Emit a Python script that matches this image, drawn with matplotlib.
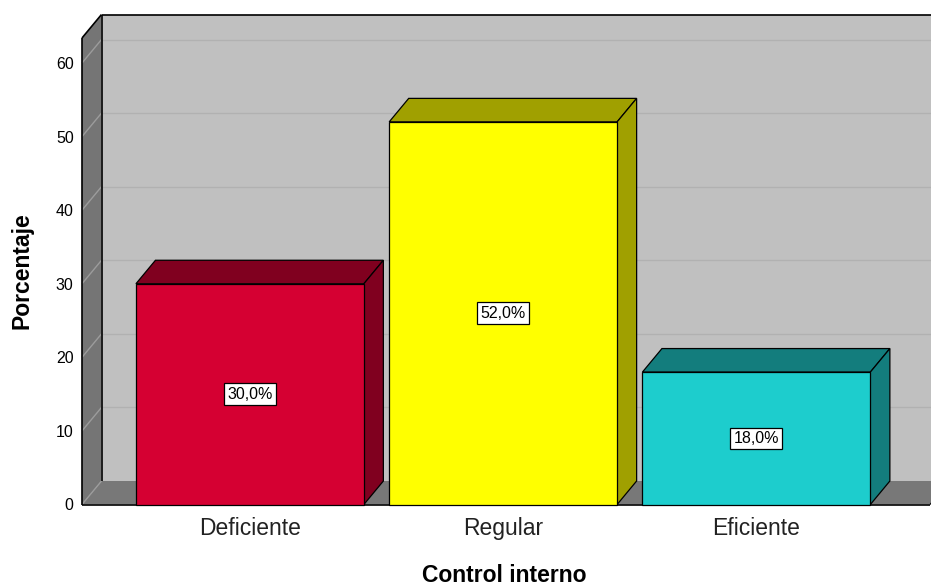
import matplotlib.pyplot as plt
from matplotlib.patches import Polygon

# Data
categories = ["Deficiente", "Regular", "Eficiente"]
percentages = [30.0, 52.0, 18.0]
value_labels = ["30,0%", "52,0%", "18,0%"]
yticks = [0, 10, 20, 30, 40, 50, 60]

front_colors = ["#D50032", "#FFFF00", "#1DCDCD"]
shade_colors = ["#80001F", "#A0A000", "#137D7D"]

plt.rcParams["font.family"] = ["Liberation Sans", "DejaVu Sans"]

fig_w_px, fig_h_px, dpi = 931, 587, 100
fig = plt.figure(figsize=(fig_w_px / dpi, fig_h_px / dpi), dpi=dpi)
fig.patch.set_facecolor("white")

# axes box in pixels (front plane)
left_px, right_px = 82, 930.4
zero_px, top_px = 504.5, 38
ax = fig.add_axes((
    left_px / fig_w_px,
    (fig_h_px - zero_px) / fig_h_px,
    (right_px - left_px) / fig_w_px,
    (zero_px - top_px) / fig_h_px,
))

xl, xr = -0.663, 2.687
ytop = 63.4
ax.set_xlim(xl, xr)
ax.set_ylim(0, ytop)
for s in ax.spines.values():
    s.set_visible(False)
ax.patch.set_visible(False)

# depth offset in data units
px_per_x = (right_px - left_px) / (xr - xl)
px_per_y = (zero_px - top_px) / ytop
dx = 19.5 / px_per_x
dy = 23.5 / px_per_y
bar_w = 0.9


def poly(pts, fc, ec="none", lw=0.0, z=1):
    ax.add_patch(Polygon(pts, closed=True, facecolor=fc, edgecolor=ec,
                         linewidth=lw, zorder=z, clip_on=False,
                         joinstyle="miter"))


def line(xs, ys, color="black", lw=1.2, z=2):
    ax.plot(xs, ys, color=color, linewidth=lw, zorder=z, clip_on=False,
            solid_capstyle="butt")


# back wall, side wall, floor
poly([(xl + dx, dy), (xr + dx + 1, dy), (xr + dx + 1, ytop + dy),
      (xl + dx, ytop + dy)], "#C0C0C0")
poly([(xl, 0), (xl + dx, dy), (xl + dx, ytop + dy), (xl, ytop)], "#757575")
poly([(xl, 0), (xr, 0), (xr + dx, dy), (xl + dx, dy)], "#787878")

# gridlines
for v in yticks:
    if v > 0:
        line([xl + dx, xr + dx + 1], [v + dy, v + dy], color="#b1b1b1",
             lw=1.0, z=1.5)
    line([xl, xl + dx], [v, v + dy], color="#9c9c9c", lw=1.0, z=1.5)

# frame edges
line([xl, xl], [0, ytop])
line([xl, xl + dx], [ytop, ytop + dy])
line([xl + dx, xr + dx + 1], [ytop + dy, ytop + dy])
line([xl + dx, xl + dx], [dy, ytop + dy])
line([xl, xr], [0, 0])
line([xr, xr + dx], [0, dy])

# bars
for i, (v, fc, sc) in enumerate(zip(percentages, front_colors, shade_colors)):
    x0, x1 = i - bar_w / 2, i + bar_w / 2
    poly([(x0, v), (x1, v), (x1 + dx, v + dy), (x0 + dx, v + dy)], sc,
         "black", 0.9, 3)
    poly([(x1, 0), (x1 + dx, dy), (x1 + dx, v + dy), (x1, v)], sc,
         "black", 0.9, 3)
    poly([(x0, 0), (x1, 0), (x1, v), (x0, v)], fc, "black", 0.9, 4)
    ax.text(i, v / 2, value_labels[i], ha="center", va="center",
            fontsize=11.5, zorder=6,
            bbox=dict(boxstyle="square,pad=0.2", facecolor="white",
                      edgecolor="black", linewidth=0.9))

ax.set_yticks(yticks)
ax.set_yticklabels([str(t) for t in yticks])
ax.set_xticks(range(len(categories)))
ax.set_xticklabels(categories)
ax.tick_params(axis="y", length=0, pad=6, labelsize=11.5, labelcolor="black")
ax.tick_params(axis="x", length=0, pad=9, labelsize=16.5, labelcolor="#222222")

ax.set_xlabel("Control interno", fontsize=16.5, fontweight="bold", va="center")
ax.xaxis.set_label_coords((504 - left_px) / (right_px - left_px),
                          (zero_px - 576) / (zero_px - top_px))
ax.set_ylabel("Porcentaje", fontsize=16.5, fontweight="bold", va="center")
ax.yaxis.set_label_coords((22 - left_px) / (right_px - left_px),
                          (zero_px - 271) / (zero_px - top_px))

fig.savefig("out.png", dpi=dpi)
